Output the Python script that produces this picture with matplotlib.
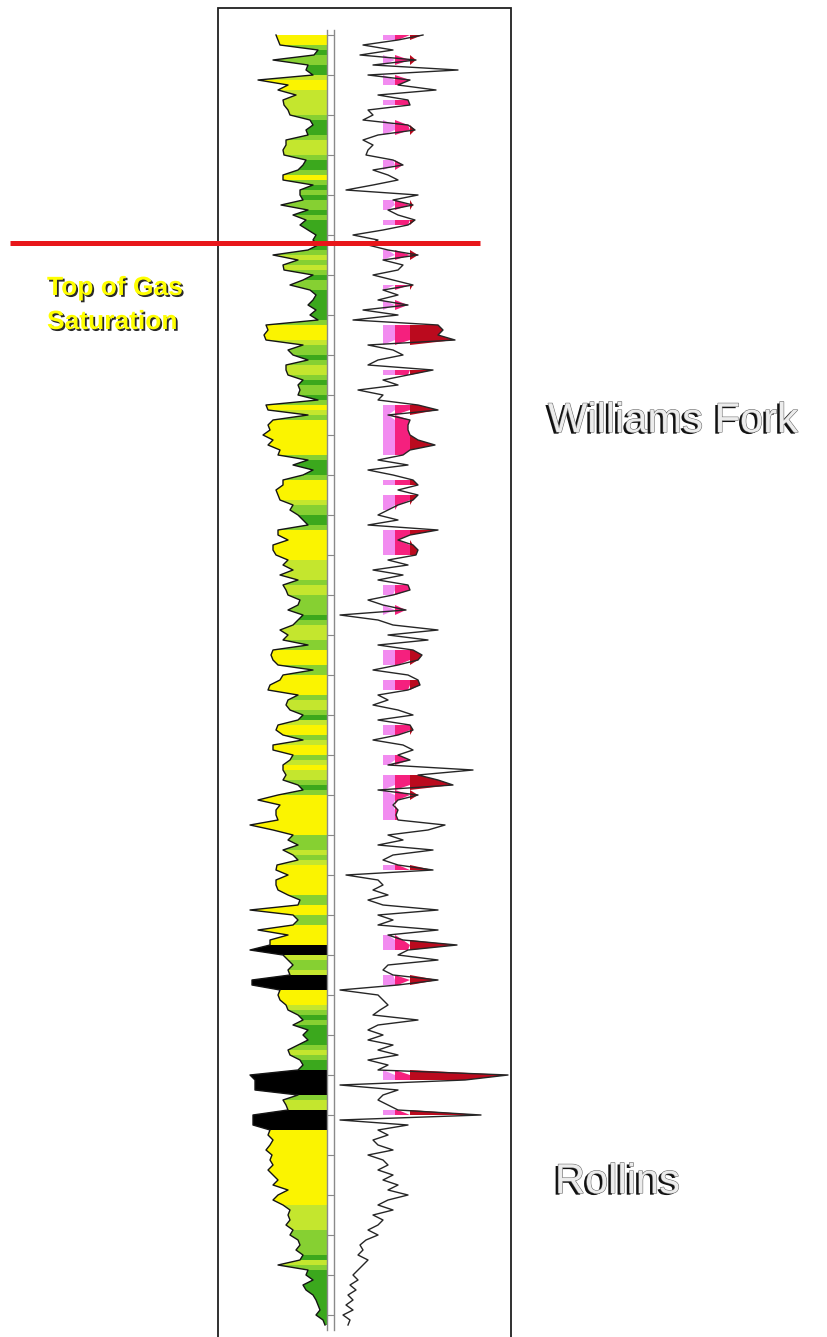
import numpy as np
import matplotlib
matplotlib.use("Agg")
import matplotlib.pyplot as plt
from matplotlib.collections import PolyCollection
import matplotlib.patheffects as pe

# ---------------------------------------------------------------- log data
TOP_DEPTH = 6000          # ft, first sample
STEP = 5                  # ft per sample

# SP deflection from the shale line (mV, sand = large deflection)
sp_deflection = [
    52, 50, 48, 10, 14, 55, 20, 22, 15, 70,
    40, 50, 32, 45, 44, 40, 38, 18, 15, 22,
    20, 42, 42, 45, 44, 22, 25, 30, 45, 45,
    15, 28, 28, 25, 47, 20, 35, 22, 28, 20,
    12, 15, 10, 20, 55, 30, 45, 44, 15, 25,
    38, 18, 12, 15, 20, 12, 18, 10, 62, 60,
    64, 62, 25, 40, 35, 20, 42, 42, 40, 25,
    30, 28, 30, 10, 62, 60, 20, 55, 60, 58,
    65, 55, 60, 48, 50, 20, 35, 15, 25, 45,
    45, 52, 50, 48, 35, 38, 30, 25, 20, 50,
    50, 40, 55, 55, 52, 40, 45, 35, 48, 30,
    45, 42, 40, 28, 30, 40, 25, 30, 35, 48,
    40, 45, 20, 55, 57, 55, 50, 15, 45, 48,
    58, 60, 30, 40, 42, 38, 25, 30, 50, 52,
    45, 25, 55, 55, 35, 38, 45, 45, 42, 45,
    30, 25, 50, 70, 48, 52, 52, 50, 78, 55,
    35, 40, 30, 45, 35, 30, 51, 52, 40, 52,
    52, 50, 40, 28, 30, 78, 35, 30, 35, 70,
    40, 58, 58, 78, 45, 40, 35, 40, 38, 76,
    76, 48, 50, 48, 42, 40, 30, 25, 35, 20,
    25, 20, 30, 40, 38, 28, 25, 30, 78, 73,
    73, 73, 30, 45, 42, 40, 75, 75, 75, 58,
    60, 55, 58, 62, 56, 58, 55, 60, 55, 50,
    55, 40, 50, 55, 45, 38, 40, 38, 42, 35,
    38, 30, 28, 32, 25, 28, 50, 20, 22, 15,
    25, 22, 15, 12, 10, 8, 12, 5, 3,
]

# deep resistivity (ohm-m, linear scale)
resistivity = [
    85, 60, 25, 55, 22, 78, 35, 120, 30, 72,
    60, 98, 40, 70, 72, 30, 35, 25, 70, 77,
    40, 25, 35, 30, 28, 55, 65, 35, 50, 60,
    35, 8, 80, 55, 75, 50, 60, 77, 70, 45,
    15, 40, 30, 50, 80, 45, 65, 60, 35, 55,
    75, 45, 60, 40, 70, 25, 60, 15, 100, 105,
    100, 117, 30, 55, 65, 40, 30, 95, 70, 45,
    60, 20, 45, 40, 80, 100, 50, 72, 70, 70,
    72, 80, 97, 72, 65, 40, 70, 30, 55, 75,
    80, 60, 80, 75, 60, 50, 40, 60, 30, 100,
    72, 60, 75, 80, 78, 50, 70, 35, 65, 40,
    70, 72, 55, 30, 45, 68, 2, 40, 55, 100,
    50, 90, 40, 75, 84, 80, 60, 35, 70, 80,
    82, 70, 40, 50, 35, 60, 75, 40, 72, 75,
    60, 35, 65, 75, 60, 72, 50, 135, 80, 100,
    115, 40, 80, 60, 55, 60, 58, 60, 107, 90,
    50, 65, 40, 95, 55, 45, 60, 95, 8, 40,
    45, 35, 50, 30, 45, 100, 40, 55, 40, 100,
    50, 65, 119, 70, 60, 100, 50, 45, 55, 100,
    60, 2, 40, 45, 50, 42, 35, 80, 40, 30,
    45, 30, 55, 40, 60, 30, 50, 40, 170, 127,
    2, 60, 45, 40, 50, 60, 143, 2, 70, 40,
    50, 35, 40, 55, 30, 45, 50, 40, 55, 45,
    60, 50, 70, 50, 40, 55, 35, 45, 40, 30,
    40, 28, 22, 25, 20, 30, 25, 20, 15, 20,
    12, 18, 10, 15, 8, 15, 5, 12, 10,
]

# coal beds (top, base in ft)
coal_tops = [6911, 6941, 7036, 7076]
coal_bases = [6919, 6953, 7058, 7093]

# gas-bearing intervals (top, base in ft)
gas_tops = [5998, 6020, 6040, 6063, 6085, 6123, 6163, 6181, 6215, 6247,
            6265, 6288, 6331, 6368, 6443, 6459, 6491, 6550, 6570, 6613,
            6643, 6687, 6717, 6739, 6760, 6827, 6900, 6937, 7035, 7073]
gas_bases = [6007, 6030, 6050, 6073, 6100, 6135, 6177, 6193, 6225, 6257,
             6275, 6310, 6343, 6421, 6453, 6475, 6520, 6560, 6580, 6633,
             6657, 6701, 6731, 6757, 6787, 6837, 6915, 6950, 7045, 7083]

GAS_SATURATION_TOP = 6208   # ft
RES_SHADES = [(45, 57, "#f28cf0"), (57, 72, "#f5207e"), (72, 400, "#bb0a1e")]
SP_CLASSES = [(45, "#fbf400"), (38, "#c4e62e"), (28, "#86d032"), (-1, "#3ba81d")]

# ---------------------------------------------------------------- layout
W, H = 828, 1337
fig = plt.figure(figsize=(W / 100, H / 100), dpi=100)
fig.patch.set_facecolor("white")

TRACK_TOP_PX, TRACK_BOT_PX = 30, 1330
D_TOP = TOP_DEPTH - (35 - TRACK_TOP_PX)
D_BOT = D_TOP + (TRACK_BOT_PX - TRACK_TOP_PX)


def px_axes(x0, x1):
    return fig.add_axes([x0 / W, 1 - TRACK_BOT_PX / H, (x1 - x0) / W,
                         (TRACK_BOT_PX - TRACK_TOP_PX) / H])


depth = TOP_DEPTH + STEP * np.arange(len(sp_deflection))
sp = np.asarray(sp_deflection, float)
res = np.asarray(resistivity, float)

# ---- SP track (deflects to the left of the depth column)
ax_sp = px_axes(236, 328)
ax_sp.set_xlim(92, 0)
ax_sp.set_ylim(D_BOT, D_TOP)
ax_sp.axis("off")

mid_depth = 0.5 * (depth[:-1] + depth[1:])
mean_sp = 0.5 * (sp[:-1] + sp[1:])
coal = np.zeros(len(mid_depth), bool)
for t, b in zip(coal_tops, coal_bases):
    coal |= (mid_depth >= t) & (mid_depth <= b)

verts, colors = [], []
for i in range(len(depth) - 1):
    verts.append([(0, depth[i]), (sp[i], depth[i]),
                  (sp[i + 1], depth[i + 1]), (0, depth[i + 1])])
    if coal[i]:
        colors.append("black")
    else:
        for cut, c in SP_CLASSES:
            if mean_sp[i] >= cut:
                colors.append(c)
                break
ax_sp.add_collection(PolyCollection(verts, facecolors=colors,
                                    edgecolors="none"))
ax_sp.plot(sp, depth, color="#141414", lw=1.0)

# ---- depth column
ax_d = px_axes(327, 334)
ax_d.set_ylim(D_BOT, D_TOP)
ax_d.set_xlim(0, 1)
ax_d.set_xticks([])
ax_d.set_yticks(np.arange(6000, 7300, 40))
ax_d.tick_params(axis="y", direction="in", length=3, width=0.8,
                 color="#8a8a8a", left=True, right=True,
                 labelleft=False)
for side in ("top", "bottom"):
    ax_d.spines[side].set_visible(False)
for side in ("left", "right"):
    ax_d.spines[side].set_color("#8a8a8a")
    ax_d.spines[side].set_linewidth(1.0)

# ---- resistivity track
ax_r = px_axes(338, 511)
ax_r.set_xlim(0, 173)
ax_r.set_ylim(D_BOT, D_TOP)
ax_r.axis("off")

gas = np.zeros(len(depth), bool)
for t, b in zip(gas_tops, gas_bases):
    gas |= (depth >= t) & (depth <= b)
for lo, hi, c in RES_SHADES:
    ax_r.fill_betweenx(depth, lo, np.clip(res, lo, hi), where=gas,
                       color=c, lw=0)
ax_r.plot(res, depth, color="#262626", lw=1.0, clip_on=False)

# ---- overlay: frame, gas-saturation marker and annotations
ax_o = fig.add_axes([0, 0, 1, 1])
ax_o.set_xlim(0, W)
ax_o.set_ylim(D_TOP + (H - TRACK_TOP_PX), D_TOP - TRACK_TOP_PX)
ax_o.axis("off")
ax_o.patch.set_alpha(0)

frame_top = D_TOP - 22
frame_bot = D_TOP + H
ax_o.plot([218, 218, 511, 511], [frame_bot, frame_top, frame_top, frame_bot],
          color="#202020", lw=1.3, solid_joinstyle="miter")

ax_o.hlines(GAS_SATURATION_TOP, 10, 480, color="#e8161a", lw=3.6)

yellow_fx = [pe.withSimplePatchShadow(offset=(1.3, -1.3),
                                      shadow_rgbFace="#1e1e1e", alpha=0.95)]
for txt, yb in (("Top of Gas", 295), ("Saturation", 329)):
    fig.text(47 / W, 1 - yb / H, txt, fontsize=19, fontweight="bold",
             family="Liberation Sans", color="#ffff00", va="baseline",
             path_effects=yellow_fx)

emboss_fx = [pe.SimplePatchShadow(offset=(-2.0, -1.2),
                                  shadow_rgbFace="#111111", alpha=1.0),
             pe.Stroke(linewidth=0.8, foreground="#6a6a6a"),
             pe.Normal()]
for txt, xl, yb in (("Williams Fork", 548, 432), ("Rollins", 555, 1193)):
    fig.text(xl / W, 1 - yb / H, txt, fontsize=30,
             family="Liberation Sans", color="#ececec", va="baseline",
             path_effects=emboss_fx)

fig.savefig("out.png", dpi=100)
